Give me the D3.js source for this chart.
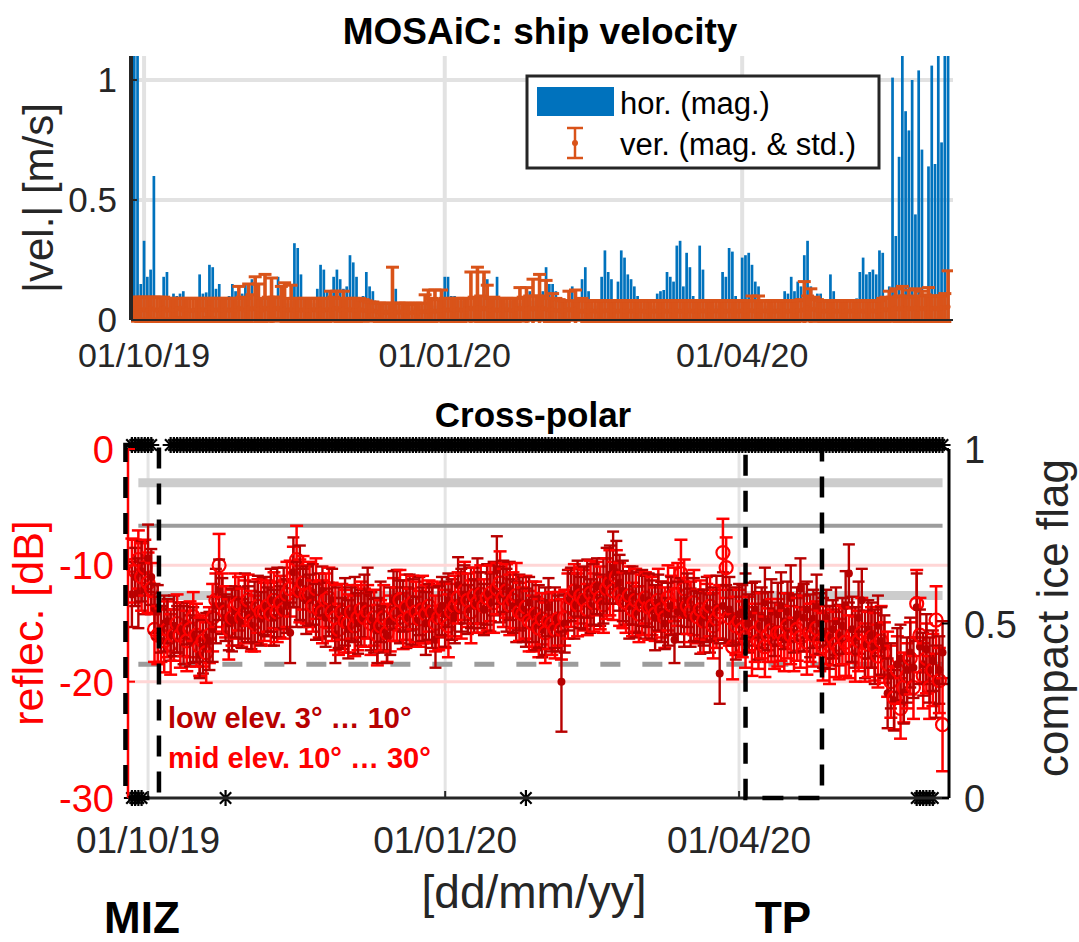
<!DOCTYPE html>
<html>
<head>
<meta charset="utf-8">
<script src="https://cdn.jsdelivr.net/npm/d3@7"></script>
<style>
  body { margin: 0; background: #fff; }
  svg text { font-family: "Liberation Sans", Arial, sans-serif; }
</style>
</head>
<body>
<svg id="canvas"></svg>
<script>
// ---------- data ----------
// ship velocity, one value per day starting 28/09/19
const topStart = new Date(2019, 8, 28);
const horVel = [
  1.1,1.1,.15,.33,.18,.21,.6,.05,.06,.18,
  .2,.06,.11,.1,.11,.12,.08,.05,.05,.06,
  .19,.11,.115,.23,.22,.13,.15,.09,.07,.1,
  .15,.12,.08,.11,.15,.13,.17,.07,.07,.08,
  .09,.1,.09,.1,.18,.14,.08,.07,.08,.32,
  .3,.19,.09,.07,.08,.07,.13,.23,.21,.12,
  .08,.18,.21,.17,.13,.14,.27,.24,.18,.08,
  .1,.2,.14,.12,.08,.06,.05,.07,.06,.07,
  .13,.06,.05,.06,.07,.05,.06,.05,.06,.07,
  .05,.06,.06,.07,.06,.18,.18,.1,.1,.09,
  .08,.07,.08,.06,.07,.08,.1,.18,.17,.08,
  .09,.18,.07,.06,.07,.08,.07,.06,.07,.08,
  .1,.12,.08,.1,.13,.12,.22,.15,.15,.12,
  .08,.07,.07,.07,.14,.12,.08,.17,.22,.12,
  .07,.06,.07,.18,.29,.2,.17,.07,.16,.29,
  .26,.19,.17,.14,.1,.07,.07,.07,.06,.06,
  .11,.12,.125,.2,.18,.16,.31,.33,.14,.28,
  .22,.1,.07,.31,.21,.08,.07,.08,.06,.07,
  .2,.18,.3,.285,.1,.07,.26,.27,.28,.23,
  .16,.14,.07,.06,.08,.07,.06,.07,.08,.12,
  .11,.18,.12,.16,.14,.27,.33,.14,.07,.11,
  .11,.07,.08,.19,.12,.07,.06,.07,.06,.07,
  .07,.09,.2,.26,.19,.2,.21,.19,.29,.28,
  .09,.14,1.01,.35,.68,1.1,.87,.79,1.0,.44,
  1.04,.71,.1,.64,1.06,.65,1.1,.74,1.1,1.1
];
const verMean = [
  .045,.05,.04,.045,.04,.05,.045,.04,.045,.05,
  .04,.045,.04,.045,.05,.04,.045,.04,.04,.045,
  .04,.045,.04,.05,.045,.04,.045,.04,.045,.04,
  .045,.04,.05,.045,.04,.05,.045,.05,.045,.04,
  .05,.045,.04,.045,.05,.04,.045,.04,.045,.04,
  .045,.04,.045,.04,.04,.045,.04,.045,.04,.045,
  .04,.045,.05,.04,.045,.04,.045,.04,.04,.045,
  .04,.04,.035,.04,.035,.03,.035,.03,.035,.04,
  .03,.035,.03,.035,.03,.03,.035,.03,.035,.035,
  .035,.04,.035,.04,.04,.045,.04,.045,.04,.045,
  .04,.045,.045,.05,.045,.05,.045,.05,.045,.04,
  .045,.04,.045,.04,.045,.04,.04,.045,.05,.045,
  .045,.05,.045,.05,.045,.05,.045,.04,.045,.04,
  .04,.035,.04,.045,.04,.045,.04,.035,.04,.035,
  .04,.035,.04,.035,.04,.04,.035,.04,.035,.04,
  .035,.04,.035,.04,.035,.04,.035,.035,.04,.035,
  .04,.035,.04,.035,.04,.035,.04,.035,.04,.035,
  .04,.035,.04,.035,.04,.035,.04,.035,.04,.035,
  .04,.035,.04,.035,.04,.035,.04,.035,.04,.04,
  .035,.04,.035,.04,.035,.04,.035,.04,.035,.04,
  .035,.04,.035,.04,.04,.045,.05,.045,.045,.04,
  .04,.035,.04,.035,.04,.035,.04,.035,.04,.035,
  .04,.035,.04,.035,.04,.035,.04,.035,.04,.04,
  .045,.04,.045,.05,.045,.05,.045,.05,.045,.05,
  .045,.05,.045,.05,.045,.05,.045,.05,.05,.055
];
const verStd = [
  .05,.045,.055,.05,.055,.045,.05,.055,.05,.045,
  .05,.045,.05,.045,.04,.05,.045,.05,.05,.045,
  .05,.045,.05,.04,.045,.05,.045,.05,.045,.05,
  .045,.05,.09,.05,.05,.1,.06,.13,.105,.05,
  .14,.05,.135,.05,.045,.1,.11,.05,.1,.05,
  .045,.05,.045,.05,.05,.045,.05,.045,.05,.045,
  .08,.05,.07,.05,.075,.05,.045,.05,.05,.045,
  .045,.04,.04,.035,.035,.04,.035,.04,.035,.18,
  .04,.035,.04,.035,.04,.035,.035,.04,.035,.07,
  .09,.05,.09,.045,.085,.045,.05,.045,.05,.045,
  .05,.045,.045,.15,.05,.17,.055,.15,.1,.05,
  .05,.05,.045,.05,.045,.05,.05,.045,.085,.05,
  .09,.05,.125,.05,.145,.05,.12,.05,.065,.05,
  .045,.045,.04,.075,.04,.08,.04,.055,.04,.045,
  .04,.045,.04,.045,.04,.04,.045,.04,.045,.04,
  .045,.04,.045,.04,.045,.04,.045,.045,.04,.045,
  .04,.045,.04,.045,.04,.045,.04,.045,.04,.045,
  .04,.045,.04,.045,.04,.045,.04,.045,.04,.045,
  .04,.045,.04,.045,.04,.045,.04,.045,.04,.06,
  .045,.06,.045,.04,.045,.04,.045,.04,.045,.04,
  .045,.04,.045,.04,.045,.115,.05,.085,.05,.045,
  .04,.045,.04,.045,.04,.045,.04,.045,.04,.045,
  .04,.045,.04,.045,.04,.045,.04,.045,.04,.05,
  .05,.08,.05,.08,.055,.09,.055,.075,.05,.08,
  .055,.07,.06,.085,.055,.05,.055,.05,.06,.15
];

// cross-polar reflectivity [dB], one value per day starting 26/09/19
const botStart = new Date(2019, 8, 26);
const lowMean = [
  -12.5,-11,-12.4,-10.5,-12, -9.4,-11,-13.7,-14,
  -15.5,-15,-14.8,-16,-15.2,-15.5, -15.5,-16,-15,-16.5,-16,-16.4,
  -17.7,-17,-16.2,-16.5,-15.5,-13.5, -12.1,-13.5,-14.5,-15,-14.7,-14,
  -14.4,-15,-13.5,-14.2,-15.2,-14,-13.8,-14.6, -13.5,-14,-13,-14.5,-13.2,-14,-12.8,-13.5,
  -15.8,-10.6,-12.5,-11.5,-12.8,-13, -13,-12.5,-14,-13.5,-12.2,-14.5,-13.8,-13,
  -16,-14.5,-15,-14,-15.5,-14.2,-13.8,-15,-14.5,-13.5, -12.4,-14.8,-15.2,-15.6,-14,-15.5,-16,-14.8,
  -13,-12.7,-14,-13.5,-14.5,-13.2,-14,-14.8,-13.5,-14.2,-15,-14, -14.5,-16.4,-14,-13.5,-14.2,-13,-13.8,-14.5,
  -11.7,-13,-12.5,-13.8,-12.8,-13.5,-12.2,-13,-13.8,-12.5,-13.2,-12, -10.4,-12.5,-11.8,-13,-12.2,-13.5,-14,-13.2,
  -13.8,-14.5,-13.2,-14,-15,-14.4,-15.5,-14.8,-13.6,-15.2,-14.5,-15, -20,-15,
  -13,-12.5,-13.5,-12,-13.2,-12.8,-12,-13.5,-12.5,-11.8,-13,-12.2, -11.4,-10.8,-10.2,-10.6,-11.5,-12.2,
  -12.8,-13.5,-12.6,-14,-13.2,-12.8,-13.6,-13, -13.8,-14.5,-13.2,-14,-15,-14.2,-13.5,-16.4,
  -14,-13.5,-14.2,-13,-14.5,-13.8,-14.4,-15, -14.5,-13.8,-15,-14.2,-13.6,-19.3, -13.5,-14.2,-13.8,-14.5,-15,-14.2,
  -14,-13.5,-15,-14.2,-13.8,-15.2,-14.5,-13.2,-14.8,-14,-15.5,-14.2,
  -13.5,-14.8,-14,-12.8,-15,-14.2,-12,-14.5,-13.8,-15.2,-14.6,-13.6,
  -15,-15.8,-14.5,-16.2,-15.5,-14.8,-16,-15.2,-13.5,-10.7,
  -15.5,-16.2,-14.5,-13,-16.8,-15.5,-16,-17,-15.2,-16.5,
  -17,-21,-19.5,-21.6,-18.5,-18,-20.9,-19,-17.5,-18.8,
  -13.6,-17,-18.5,-17.2,-19,-18.2,-20,-19,-17.5
];
const lowStd = [
  2.8,2.5,3.0,2.6,2.2,2.9,2.4,2.1,2.3,2.0,2.4,1.9,
  2.2,2.6,2.0,2.3,2.5,1.8,2.2,2.4,1.9,2.0,2.3,2.1,
  2.5,2.8,3.2,2.6,2.4,2.0,2.3,2.7,2.2,2.5,2.1,2.8,
  2.4,2.0,2.6,2.9,2.3,2.5,2.1,2.7,2.4,3.0,2.2,2.6,
  2.3,2.6,3.0,2.8,3.2,2.5,2.9,2.2,2.6,2.4,2.8,2.1,
  2.5,2.3,2.7,2.4,2.6,2.2,2.9,2.5,2.3,2.8,2.6,2.4,
  2.7,2.2,2.5,2.3,2.8,2.6,2.0,2.4,2.9,2.5,2.3,2.7,
  2.2,2.6,2.4,2.8,2.1,2.5,2.3,2.7,2.4,2.6,2.4,2.2,
  2.5,2.8,2.3,2.6,2.2,2.4,2.7,2.5,2.1,2.6,2.3,2.8,
  2.4,2.2,2.6,2.5,2.3,2.9,2.4,2.2,2.7,2.5,2.3,2.6,
  2.4,2.8,2.5,2.2,2.6,2.3,2.7,2.4,2.9,2.5,2.2,2.6,
  2.4,4.3,2.5,2.6,2.3,2.8,2.4,2.2,2.7,2.5,2.3,2.6,
  2.4,2.2,2.8,2.9,2.5,3.1,2.7,2.4,2.6,2.3,2.8,2.5,
  2.2,2.6,2.4,2.7,2.3,2.5,2.8,2.4,2.6,2.2,2.7,2.5,
  2.0,2.6,2.4,2.8,2.3,2.5,2.7,2.2,2.6,2.4,2.8,2.5,
  2.3,2.7,2.6,2.9,2.5,2.8,2.4,3.1,2.6,2.3,2.8,2.5,
  2.7,2.4,2.9,2.6,3.0,2.5,2.8,2.3,2.7,2.9,2.4,2.6,
  2.8,2.5,2.3,2.6,2.9,2.4,2.7,2.5,2.8,2.6,3.0,2.4,
  2.7,2.5,2.9,2.6,2.4,3.0,2.5,2.8,2.6,3.1,2.7,2.9,
  2.5,2.8,3.2,2.6,2.9,2.7,3.0,2.8,2.6,3.1,2.9,2.7,
  2.8,3.0,2.6,2.9,3.2,2.7,3.0,2.8,2.6,3.1,2.9,2.7
];
const midMean = [
  -10,-10.5,-9.5,-11,-10.2, -11.5,-12,-15.5,-16,
  -16,-16.5,-15.5,-16.8,-16,-15, -16,-15.5,-16.5,-15.5,-14.4,-16,
  -17,-16.5,-17.5,-16,-14.5,-13, -10,-13.2,-14,-15.5,-14.5,-13.5,
  -13.3,-14.5,-14,-13,-14.8,-15,-13.5,-14, -14,-13.5,-14.2,-13,-14,-13.2,-13.8,-12.5,
  -12,-11,-9.5,-12.2,-11.5,-12.5, -12.5,-13.5,-12,-13.8,-14,-13,-12.8,-14,
  -14.5,-15.5,-14,-14.8,-15,-14,-15.2,-14.5,-13.8,-14.5, -14,-15,-14.5,-16,-15.2,-14.5,-15.8,-15,
  -13.8,-14.2,-13,-14.8,-13.6,-14.5,-13.2,-14,-14.6,-13.8,-14.2,-13.5, -14,-15,-14.5,-13.8,-14.6,-15.2,-14,-13.5,
  -12.8,-13.5,-12.2,-13,-14,-12.6,-13.2,-12.5,-13.5,-12.8,-12.4,-13.2, -12,-11.5,-12.8,-12.2,-13.4,-13,-12.6,-14,
  -14.2,-13.6,-14.8,-15,-14.2,-15.4,-14.6,-15.8,-14.8,-15,-15.5,-14.6, -15.5,-14.5,
  -13.5,-12.8,-12.2,-13.4,-12.6,-13,-13.8,-12.4,-13.2,-12,-12.8,-13.4, -12,-11.5,-12.2,-11,-12.5,-13,
  -13.2,-12.6,-13.8,-13,-14.2,-13.4,-12.8,-13.6, -13.5,-14.2,-13,-13.8,-14.5,-12.8,-13.4,-12.5,
  -12.5,-10.7,-12,-13.5,-14,-13.2,-14.4,-13.8, -14.8,-14,-13.5,-15.2,-14.6,-14, -8.9,-10.2,-14.5,-17,-15.2,-14.8,
  -15.5,-16.2,-15,-16.8,-15.8,-16.5,-15.2,-17,-16,-15.6,-16.4,-15.8,
  -15.8,-16.5,-15.2,-16,-16.8,-15.5,-16.2,-15,-16.6,-15.8,-16,-15.4,
  -16.5,-17,-16,-17.5,-16.2,-16.8,-17.2,-16,-16.6,-17,
  -16,-17.2,-16.5,-15.8,-17.5,-16.8,-16.2,-17,-17.8,-16.5,
  -17.5,-18.5,-20,-21.4,-19,-22.3,-20.5,-19.5,-18,-20.5,
  -13.3,-16,-19.5,-18,-20.5,-19,-14.7,-19.9,-23.7
];
const midStd = [
  2.3,2.7,2.5,2.9,2.4,2.6,2.2,2.8,2.5,2.3,2.7,2.4,
  2.6,2.2,2.5,2.8,2.3,2.6,2.4,2.1,2.7,2.5,2.2,2.6,
  2.4,2.9,2.3,2.7,2.5,2.2,2.6,2.4,2.8,2.3,2.5,2.7,
  2.2,2.6,2.4,2.3,2.8,2.5,2.2,2.7,2.4,2.6,2.3,2.5,
  2.8,2.4,2.6,2.9,2.7,2.3,2.5,2.8,2.2,2.6,2.4,2.7,
  2.3,2.6,2.5,2.8,2.2,2.4,2.7,2.5,2.3,2.6,2.8,2.4,
  2.5,2.3,2.7,2.4,2.6,2.2,2.8,2.5,2.4,2.7,2.3,2.6,
  2.4,2.8,2.5,2.3,2.6,2.4,2.9,2.5,2.2,2.6,2.4,2.8,
  2.3,2.5,2.7,2.4,2.6,2.2,2.8,2.5,2.3,2.7,2.4,2.6,
  2.5,2.3,2.8,2.4,2.6,2.2,2.7,2.5,2.3,2.6,2.4,2.8,
  2.5,2.3,2.7,2.6,2.4,2.8,2.5,2.2,2.6,2.4,2.7,2.5,
  2.3,2.6,2.4,2.8,2.5,2.3,2.7,2.4,2.6,2.2,2.8,2.5,
  2.3,2.7,2.4,2.6,2.8,2.5,2.3,2.7,2.4,2.6,2.5,2.3,
  2.7,2.4,2.6,2.2,2.8,2.5,2.3,2.7,2.4,2.6,2.8,2.5,
  2.3,2.7,2.9,2.5,2.4,2.6,2.8,2.3,2.5,2.7,2.4,2.6,
  2.8,2.5,2.3,2.9,2.6,2.4,2.8,2.5,2.7,2.4,2.6,2.3,
  2.7,2.5,2.4,2.8,2.6,2.3,2.7,2.5,2.9,2.4,2.6,2.8,
  2.5,2.3,2.7,2.6,2.4,2.8,2.5,2.7,2.3,2.6,2.9,2.5,
  2.7,2.4,2.8,2.6,2.5,2.9,2.7,2.4,2.8,2.6,3.0,2.5,
  2.8,2.6,2.9,2.7,3.0,2.6,2.8,3.1,2.7,2.9,2.6,3.0,
  2.8,3.1,2.7,2.9,3.2,2.8,3.0,2.7,3.1,2.9,2.8,4.0
];

// compact ice flag per day from 26/09/19 as runs: "1", "0", "b" (both seen that day), "-" (none)
const iceFlagRuns = [["b",4],["1",3],["-",5],["1",17],["b",1],["1",92],["b",1],["1",120],["b",6],["1",3]];

// reference reflectivity levels [dB]
const refLevels = [-2.9, -6.6, -12.6, -18.5];
const refSpan = [new Date(2019, 8, 28), new Date(2020, 5, 3)];

// marked periods
const zones = [
  { name: "MIZ", from: new Date(2019, 8, 24), to: new Date(2019, 9, 4, 9) },
  { name: "TP", from: new Date(2020, 3, 3), to: new Date(2020, 3, 26, 16) }
];

const tickDates = [new Date(2019, 9, 1), new Date(2020, 0, 1), new Date(2020, 3, 1)];
const velTicks = [0, 0.5, 1];
const dbTicks = [0, -10, -20, -30];
const flagTicks = [0, 0.5, 1];

// ---------- setup ----------
const width = 1079, height = 942;
const svg = d3.select("#canvas").attr("width", width).attr("height", height);
const fmt = d3.timeFormat("%d/%m/%y");
const textCol = "#262626";
const blue = "#0072BD", orange = "#D95319";
const darkRed = "#b80000", red = "#ff0000";

function starPath(s) {
  const k = s * 0.7071;
  return `M0,${-s}L0,${s}M${-s},0L${s},0M${-k},${-k}L${k},${k}M${-k},${k}L${k},${-k}`;
}

// vertical error bar with caps; color/widths may be functions of the row
function errorBars(g, rows, xs, ys, color, capW, lw, capLw) {
  const f = v => (typeof v === "function" ? v : () => v);
  const col = f(color), cw = f(capW), w = f(lw), cl = f(capLw || lw);
  const sel = g.selectAll(null).data(rows).enter().append("g");
  sel.append("line")
    .attr("x1", d => xs(d.date)).attr("x2", d => xs(d.date))
    .attr("y1", d => ys(d.mean - d.std)).attr("y2", d => ys(d.mean + d.std))
    .attr("stroke", col).attr("stroke-width", w);
  [-1, 1].forEach(s => {
    sel.append("line")
      .attr("x1", d => xs(d.date) - cw(d) / 2).attr("x2", d => xs(d.date) + cw(d) / 2)
      .attr("y1", d => ys(d.mean + s * d.std)).attr("y2", d => ys(d.mean + s * d.std))
      .attr("stroke", col).attr("stroke-width", cl);
  });
  return sel;
}

// ---------- top panel: ship velocity ----------
const T = { left: 131, right: 953, top: 56, bottom: 320 };
const xTop = d3.scaleTime().domain([new Date(2019, 8, 27), new Date(2020, 5, 4, 12)]).range([T.left, T.right]);
const yTop = d3.scaleLinear().domain([0, 1.1]).range([T.bottom, T.top]);

svg.append("defs").append("clipPath").attr("id", "clipTop")
  .append("rect").attr("x", T.left).attr("y", T.top).attr("width", T.right - T.left).attr("height", T.bottom - T.top + 3);

const gTop = svg.append("g");

gTop.selectAll(".vg").data(tickDates).enter().append("line")
  .attr("x1", d => xTop(d)).attr("x2", d => xTop(d))
  .attr("y1", T.top).attr("y2", T.bottom)
  .attr("stroke", "#e2e2e2").attr("stroke-width", 4);
gTop.selectAll(".hg").data(velTicks.filter(v => v > 0)).enter().append("line")
  .attr("x1", T.left).attr("x2", T.right)
  .attr("y1", d => yTop(d)).attr("y2", d => yTop(d))
  .attr("stroke", "#e2e2e2").attr("stroke-width", 4);

const topRows = horVel.map((v, i) => ({
  date: d3.timeDay.offset(topStart, i), hor: v, mean: verMean[i], std: verStd[i]
}));

const barW = 2.7;
gTop.append("g").selectAll("rect").data(topRows).enter().append("rect")
  .attr("x", d => xTop(d.date) - barW / 2)
  .attr("y", d => yTop(Math.min(d.hor, 1.1)))
  .attr("width", barW)
  .attr("height", d => T.bottom - yTop(Math.min(d.hor, 1.1)))
  .attr("fill", blue);

const gOr = gTop.append("g").attr("clip-path", "url(#clipTop)");
const ebTop = errorBars(gOr, topRows, xTop, yTop, orange, 13, 3.6, 3);
ebTop.append("circle").attr("cx", d => xTop(d.date)).attr("cy", d => yTop(d.mean))
  .attr("r", 2.5).attr("fill", orange);

// axes lines + ticks
gTop.append("line").attr("x1", T.left).attr("x2", T.left).attr("y1", T.top).attr("y2", T.bottom)
  .attr("stroke", textCol).attr("stroke-width", 4);
gTop.append("line").attr("x1", T.left).attr("x2", T.right).attr("y1", T.bottom).attr("y2", T.bottom)
  .attr("stroke", textCol).attr("stroke-width", 2);
gTop.selectAll(".yt").data(velTicks).enter().append("line")
  .attr("x1", T.left).attr("x2", T.left + 6).attr("y1", d => yTop(d)).attr("y2", d => yTop(d))
  .attr("stroke", textCol).attr("stroke-width", 2);
gTop.selectAll(".ytl").data(velTicks).enter().append("text")
  .attr("x", 117).attr("y", d => yTop(d) + 12)
  .attr("text-anchor", "end").attr("font-size", 35).attr("fill", textCol)
  .text(d => d);
gTop.selectAll(".xtl").data(tickDates).enter().append("text")
  .attr("x", d => xTop(d)).attr("y", 367)
  .attr("text-anchor", "middle").attr("font-size", 34).attr("fill", textCol)
  .text(d => fmt(d));
gTop.append("text")
  .attr("transform", "translate(53,198) rotate(-90)")
  .attr("text-anchor", "middle").attr("font-size", 42).attr("fill", textCol)
  .text("|vel.| [m/s]");
svg.append("text").attr("x", 540).attr("y", 44)
  .attr("text-anchor", "middle").attr("font-size", 37).attr("font-weight", "bold")
  .text("MOSAiC: ship velocity");

// legend
const lg = svg.append("g");
lg.append("rect").attr("x", 527).attr("y", 76).attr("width", 352).attr("height", 92)
  .attr("fill", "#fff").attr("stroke", textCol).attr("stroke-width", 3);
lg.append("rect").attr("x", 537).attr("y", 87).attr("width", 77).attr("height", 29).attr("fill", blue);
lg.append("line").attr("x1", 575).attr("x2", 575).attr("y1", 128).attr("y2", 158)
  .attr("stroke", orange).attr("stroke-width", 2.5);
[128, 158].forEach(y => lg.append("line").attr("x1", 567).attr("x2", 583).attr("y1", y).attr("y2", y)
  .attr("stroke", orange).attr("stroke-width", 2.5));
lg.append("circle").attr("cx", 575).attr("cy", 143).attr("r", 3).attr("fill", orange);
lg.append("text").attr("x", 620).attr("y", 114).attr("font-size", 31).attr("fill", "#000").text("hor. (mag.)");
lg.append("text").attr("x", 620).attr("y", 155).attr("font-size", 31).attr("fill", "#000").text("ver. (mag. & std.)");

// ---------- bottom panel: cross-polar ----------
const B = { left: 128, right: 949, top: 449, bottom: 798 };
const xBot = d3.scaleTime().domain([new Date(2019, 8, 24, 19), new Date(2020, 5, 5)]).range([B.left, B.right]);
const yDb = d3.scaleLinear().domain([-30, 0]).range([B.bottom, B.top]);
const yFlag = d3.scaleLinear().domain([0, 1]).range([B.bottom, B.top]);

const gBot = svg.append("g");

// grid
gBot.selectAll(".vg").data(tickDates).enter().append("line")
  .attr("x1", d => xBot(d)).attr("x2", d => xBot(d))
  .attr("y1", B.top).attr("y2", B.bottom)
  .attr("stroke", "#e4e4e4").attr("stroke-width", 3);
gBot.selectAll(".hg").data([-10, -20]).enter().append("line")
  .attr("x1", B.left).attr("x2", B.right)
  .attr("y1", d => yDb(d)).attr("y2", d => yDb(d))
  .attr("stroke", "#ffd6d6").attr("stroke-width", 3);

// reference levels
const refStyles = [
  { stroke: "#cccccc", w: 9, dash: null },
  { stroke: "#9c9c9c", w: 4, dash: null },
  { stroke: "#cccccc", w: 9, dash: null },
  { stroke: "#9c9c9c", w: 5, dash: "20,22" }
];
gBot.selectAll(".ref").data(refLevels).enter().append("line")
  .attr("x1", xBot(refSpan[0])).attr("x2", xBot(refSpan[1]))
  .attr("y1", d => yDb(d)).attr("y2", d => yDb(d))
  .attr("stroke", (d, i) => refStyles[i].stroke)
  .attr("stroke-width", (d, i) => refStyles[i].w)
  .attr("stroke-dasharray", (d, i) => refStyles[i].dash);

// reflectivity series, interleaved day by day so both elevations stay visible
const reflRows = [];
lowMean.forEach((m, i) => {
  const date = d3.timeDay.offset(botStart, i);
  reflRows.push({ series: "mid", date, mean: midMean[i], std: midStd[i] });
  reflRows.push({ series: "low", date, mean: m, std: lowStd[i] });
});
const isMid = d => d.series === "mid";
const ebRefl = errorBars(gBot.append("g"), reflRows, xBot, yDb,
  d => isMid(d) ? red : darkRed, d => isMid(d) ? 13 : 12, d => isMid(d) ? 2.5 : 2.4);
ebRefl.append("circle").attr("cx", d => xBot(d.date)).attr("cy", d => yDb(d.mean))
  .attr("r", d => isMid(d) ? 6.5 : 4)
  .attr("fill", d => isMid(d) ? "none" : darkRed)
  .attr("stroke", d => isMid(d) ? red : "none")
  .attr("stroke-width", 2.2);

// compact ice flag stars
const flagPts = [];
let day = 0;
iceFlagRuns.forEach(([f, n]) => {
  for (let k = 0; k < n; k++, day++) {
    const date = d3.timeDay.offset(botStart, day);
    if (f === "1" || f === "b") flagPts.push({ date, v: 1 });
    if (f === "0" || f === "b") flagPts.push({ date, v: 0 });
  }
});
gBot.append("g").selectAll("path").data(flagPts).enter().append("path")
  .attr("transform", d => `translate(${xBot(d.date)},${yFlag(d.v) - (d.v ? 4 : 0)})`)
  .attr("d", starPath(8))
  .attr("stroke", "#000").attr("stroke-width", 2.2).attr("fill", "none");

// axes
gBot.append("line").attr("x1", B.left).attr("x2", B.left).attr("y1", B.top).attr("y2", B.bottom)
  .attr("stroke", red).attr("stroke-width", 2.5);
gBot.append("line").attr("x1", B.left).attr("x2", B.right).attr("y1", B.bottom).attr("y2", B.bottom)
  .attr("stroke", textCol).attr("stroke-width", 3);
gBot.append("line").attr("x1", B.right).attr("x2", B.right).attr("y1", B.top).attr("y2", B.bottom)
  .attr("stroke", "#000").attr("stroke-width", 3);
gBot.selectAll(".dbt").data(dbTicks).enter().append("line")
  .attr("x1", B.left).attr("x2", B.left + 7).attr("y1", d => yDb(d)).attr("y2", d => yDb(d))
  .attr("stroke", red).attr("stroke-width", 2);
gBot.selectAll(".ft").data(flagTicks).enter().append("line")
  .attr("x1", B.right - 7).attr("x2", B.right).attr("y1", d => yFlag(d)).attr("y2", d => yFlag(d))
  .attr("stroke", "#000").attr("stroke-width", 2);
gBot.selectAll(".xt").data(tickDates).enter().append("line")
  .attr("x1", d => xBot(d)).attr("x2", d => xBot(d)).attr("y1", B.bottom).attr("y2", B.bottom - 7)
  .attr("stroke", textCol).attr("stroke-width", 2);

// zone boxes
gBot.selectAll(".zone").data(zones).enter().append("rect")
  .attr("x", d => xBot(d.from)).attr("y", yFlag(1) - 4)
  .attr("width", d => xBot(d.to) - xBot(d.from))
  .attr("height", yFlag(0) - yFlag(1) + 4)
  .attr("fill", "none").attr("stroke", "#000").attr("stroke-width", 4.5)
  .attr("stroke-dasharray", "21,15");

// tick labels
gBot.selectAll(".dbl").data(dbTicks).enter().append("text")
  .attr("x", 114).attr("y", d => yDb(d) + 14)
  .attr("text-anchor", "end").attr("font-size", 38).attr("fill", red)
  .text(d => d);
gBot.selectAll(".fl").data(flagTicks).enter().append("text")
  .attr("x", 964).attr("y", d => yFlag(d) + 14)
  .attr("font-size", 38).attr("fill", textCol)
  .text(d => d);
gBot.selectAll(".xl").data(tickDates).enter().append("text")
  .attr("x", d => xBot(d)).attr("y", 853)
  .attr("text-anchor", "middle").attr("font-size", 37).attr("fill", textCol)
  .text(d => fmt(d));

// labels
svg.append("text").attr("x", 533).attr("y", 427)
  .attr("text-anchor", "middle").attr("font-size", 35).attr("font-weight", "bold")
  .text("Cross-polar");
svg.append("text").attr("transform", "translate(43,623) rotate(-90)")
  .attr("text-anchor", "middle").attr("font-size", 43).attr("fill", red)
  .text("reflec. [dB]");
svg.append("text").attr("transform", "translate(1068,618) rotate(-90)")
  .attr("text-anchor", "middle").attr("font-size", 44).attr("fill", textCol)
  .text("compact ice flag");
svg.append("text").attr("x", 534).attr("y", 908)
  .attr("text-anchor", "middle").attr("font-size", 46).attr("fill", textCol)
  .text("[dd/mm/yy]");
svg.append("text").attr("x", 168).attr("y", 728)
  .attr("font-size", 29).attr("font-weight", "bold").attr("fill", darkRed)
  .text("low elev. 3° … 10°");
svg.append("text").attr("x", 168).attr("y", 768)
  .attr("font-size", 29).attr("font-weight", "bold").attr("fill", red)
  .text("mid elev. 10° … 30°");
svg.append("text").attr("x", 142).attr("y", 933)
  .attr("text-anchor", "middle").attr("font-size", 44).attr("font-weight", "bold")
  .text("MIZ");
svg.append("text").attr("x", 783).attr("y", 933)
  .attr("text-anchor", "middle").attr("font-size", 44).attr("font-weight", "bold")
  .text("TP");
</script>
</body>
</html>
